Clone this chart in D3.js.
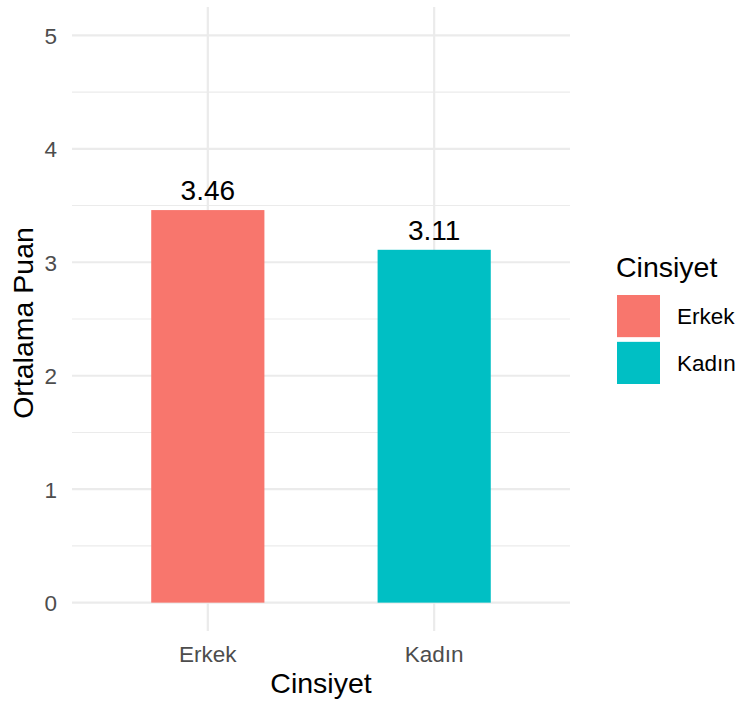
<!DOCTYPE html>
<html>
<head>
<meta charset="utf-8">
<script src="https://cdn.jsdelivr.net/npm/d3@7"></script>
<style>
html,body{margin:0;padding:0;background:#fff;}
svg{display:block;font-family:"Liberation Sans",Arial,sans-serif;}
</style>
</head>
<body>
<svg id="chart" width="740" height="706"></svg>
<script>
const categories = ["Erkek", "Kadın"];
const values = [3.46, 3.11];
const labels = ["3.46", "3.11"];
const colors = ["#F8766D", "#00BFC4"];
const yTicks = [0, 1, 2, 3, 4, 5];
const yMinor = [0.5, 1.5, 2.5, 3.5, 4.5];

const svg = d3.select("#chart");
const panel = {left: 72, right: 570, top: 7, bottom: 631};

const y = d3.scaleLinear().domain([-0.25, 5.25]).range([panel.bottom, panel.top]);
const xPos = d3.scaleLinear().domain([0.4, 2.6]).range([panel.left, panel.right]);
const x = d3.scaleBand().domain(categories)
  .range([xPos(0.75), xPos(2.25)]).paddingInner(0.5).paddingOuter(0);

const grid = svg.append("g");
grid.selectAll("line.minor").data(yMinor).enter().append("line")
  .attr("x1", panel.left).attr("x2", panel.right)
  .attr("y1", d => y(d)).attr("y2", d => y(d))
  .attr("stroke", "#EBEBEB").attr("stroke-width", 1.1);
grid.selectAll("line.major").data(yTicks).enter().append("line")
  .attr("x1", panel.left).attr("x2", panel.right)
  .attr("y1", d => y(d)).attr("y2", d => y(d))
  .attr("stroke", "#EBEBEB").attr("stroke-width", 2.2);
grid.selectAll("line.vx").data(categories).enter().append("line")
  .attr("x1", d => x(d) + x.bandwidth()/2).attr("x2", d => x(d) + x.bandwidth()/2)
  .attr("y1", panel.top).attr("y2", panel.bottom)
  .attr("stroke", "#EBEBEB").attr("stroke-width", 2.2);

svg.selectAll("rect.bar").data(categories).enter().append("rect")
  .attr("x", d => x(d)).attr("width", x.bandwidth())
  .attr("y", (d, i) => y(values[i]))
  .attr("height", (d, i) => y(0) - y(values[i]))
  .attr("fill", (d, i) => colors[i]);

svg.selectAll("text.val").data(categories).enter().append("text")
  .attr("x", d => x(d) + x.bandwidth()/2)
  .attr("y", (d, i) => y(values[i]) - 10)
  .attr("text-anchor", "middle").attr("font-size", 28)
  .attr("fill", "#000").text((d, i) => labels[i]);

// y axis labels
const yAxis = d3.axisLeft(y).tickValues(yTicks).tickSize(0).tickPadding(0).tickFormat(d3.format("d"));
const ya = svg.append("g").attr("transform", `translate(57,0)`).call(yAxis);
ya.select(".domain").remove();
ya.selectAll("text").attr("font-size", 22.5).attr("fill", "#4D4D4D")
  .attr("font-family", "Liberation Sans, Arial, sans-serif").attr("dy", "0.35em");

// x axis labels
const xAxis = d3.axisBottom(x).tickSize(0).tickPadding(0);
const xa = svg.append("g").attr("transform", `translate(0,662)`).call(xAxis);
xa.select(".domain").remove();
xa.selectAll("text").attr("font-size", 22.5).attr("fill", "#4D4D4D")
  .attr("font-family", "Liberation Sans, Arial, sans-serif").attr("dy", 0).attr("y", 0);

svg.append("text").attr("x", (panel.left + panel.right)/2).attr("y", 693)
  .attr("text-anchor", "middle").attr("font-size", 28.5).attr("fill", "#000").text("Cinsiyet");
svg.append("text").attr("transform", `translate(33,${(panel.top + panel.bottom)/2 + 4}) rotate(-90)`)
  .attr("text-anchor", "middle").attr("font-size", 28.5).attr("fill", "#000").text("Ortalama Puan");

// legend
const lg = svg.append("g");
lg.append("text").attr("x", 616).attr("y", 277).attr("font-size", 28.5).attr("fill", "#000").text("Cinsiyet");
const ky = d3.scaleBand().domain(categories).range([295, 384]).paddingInner(0.1);
lg.selectAll("rect").data(categories).enter().append("rect")
  .attr("x", 617).attr("y", d => ky(d)).attr("width", 43).attr("height", ky.bandwidth())
  .attr("fill", (d, i) => colors[i]);
lg.selectAll("text.lab").data(categories).enter().append("text")
  .attr("x", 677).attr("y", d => ky(d) + ky.bandwidth()/2 + 8)
  .attr("font-size", 22.5).attr("fill", "#000").text(d => d);
</script>
</body>
</html>
